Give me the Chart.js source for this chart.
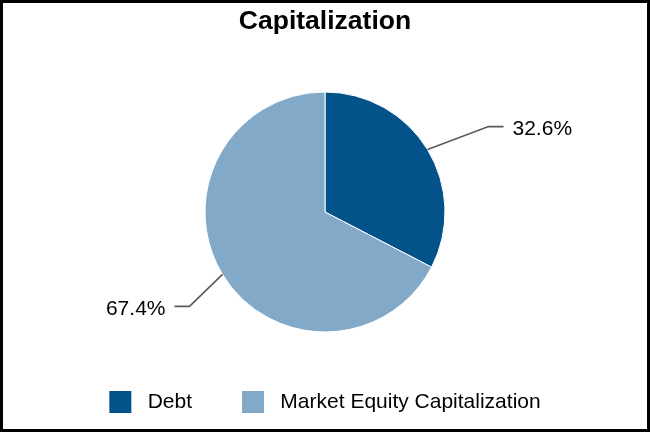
<!DOCTYPE html>
<html>
<head>
<meta charset="utf-8">
<script src="https://cdn.jsdelivr.net/npm/chart.js@4/dist/chart.umd.min.js"></script>
<style>
    html, body { margin: 0; padding: 0; background: #fff; }
    #frame {
        width: 650px; height: 432px;
        box-sizing: border-box;
        border: 3px solid #000;
        background: #fff;
    }
    canvas { display: block; }
</style>
</head>
<body>
<div id="frame"><canvas id="capChart" width="644" height="426"></canvas></div>
<script>
// chart data
const categories = ['Debt', 'Market Equity Capitalization'];
const shares = [32.6, 67.4];
const sliceColors = ['#03528a', '#83a9c8'];

// where the leader line bends, relative to the slice edge
const elbowOffsets = [[61, -23], [-33, 32]];

const FONT = '"Liberation Sans", Arial, sans-serif';

// percent labels with leader lines, placed from the arcs Chart.js computed
const sliceLabels = {
    id: 'sliceLabels',
    afterDatasetsDraw(chart) {
        const ctx = chart.ctx;
        const meta = chart.getDatasetMeta(0);
        ctx.save();
        meta.data.forEach((arc, i) => {
            const p = arc.getProps(['x', 'y', 'startAngle', 'endAngle', 'outerRadius'], true);
            const mid = (p.startAngle + p.endAngle) / 2;
            const ex = p.x + Math.cos(mid) * p.outerRadius;
            const ey = p.y + Math.sin(mid) * p.outerRadius;
            const dir = elbowOffsets[i][0] > 0 ? 1 : -1;
            const kx = ex + elbowOffsets[i][0];
            const ky = ey + elbowOffsets[i][1];
            const hx = kx + dir * 15;

            ctx.strokeStyle = '#5a5a5a';
            ctx.lineWidth = 1.6;
            ctx.beginPath();
            ctx.moveTo(ex, ey);
            ctx.lineTo(kx, ky);
            ctx.lineTo(hx, ky);
            ctx.stroke();

            ctx.fillStyle = '#000';
            ctx.font = '21px ' + FONT;
            ctx.textBaseline = 'middle';
            ctx.textAlign = dir > 0 ? 'left' : 'right';
            ctx.fillText(shares[i].toFixed(1) + '%', hx + dir * 9, ky + 3);
        });
        ctx.restore();
    }
};

new Chart(document.getElementById('capChart'), {
    type: 'pie',
    data: {
        labels: categories,
        datasets: [{
            data: shares,
            backgroundColor: sliceColors,
            borderColor: '#fff',
            borderWidth: 1,
            radius: 120
        }]
    },
    options: {
        responsive: false,
        animation: false,
        layout: { padding: { bottom: 8 } },
        plugins: {
            title: {
                display: true,
                text: 'Capitalization',
                color: '#000',
                font: { family: FONT, size: 26.5, weight: 'bold', lineHeight: 1 },
                padding: { top: 5, bottom: 48.5 }
            },
            legend: {
                position: 'bottom',
                maxHeight: 80,
                labels: {
                    color: '#000',
                    font: { family: FONT, size: 21 },
                    boxWidth: 22,
                    boxHeight: 22,
                    padding: 50,
                    generateLabels(chart) {
                        const items = Chart.overrides.pie.plugins.legend.labels.generateLabels(chart);
                        items.forEach(it => { it.text = ' ' + it.text; it.lineWidth = 0; });
                        return items;
                    }
                }
            },
            tooltip: { enabled: false }
        }
    },
    plugins: [sliceLabels]
});
</script>
</body>
</html>
